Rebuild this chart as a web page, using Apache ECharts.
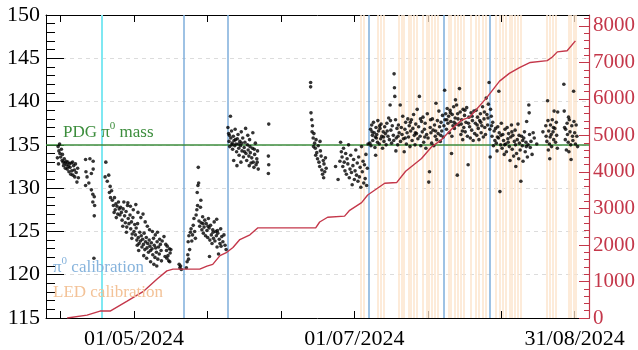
<!DOCTYPE html>
<html><head><meta charset="utf-8">
<script src="https://cdn.jsdelivr.net/npm/echarts@6/dist/echarts.min.js"></script>
<style>html,body{margin:0;padding:0;background:#fff}#c{width:638px;height:350px}</style>
</head><body><div id="c"></div>
<script>
// x values are days since 01/04/2024
const tickDays = [9.667, 30, 50.333, 70.667, 91, 111.333, 131.667, 152];
const labelDays = [30, 91, 152];
const tickLabels = ['01/05/2024', '01/07/2024', '31/08/2024'];
const rightMajor = [0, 1000, 2000, 3000, 4000, 5000, 6000, 7000, 8000];

const cyanDays = [21.1];
const blueDays = [43.9, 55.9, 94.9, 115.7, 128.5];
const orangeDays = [92.9, 93.6, 97.5, 98.3, 99.1, 103.4, 104.0, 104.7, 106.1, 106.6, 107.5, 108.3, 110.0, 111.0, 111.5, 112.4, 113.2, 114.0,
  117.1, 117.8, 118.7, 119.6, 120.4, 121.3, 123.3, 124.5, 125.4, 126.5, 127.5, 130.2, 131.2, 132.1, 133.0, 133.9, 134.6, 135.3, 136.2, 137.2,
  144.4, 145.0, 145.9, 146.8, 150.4, 151.0, 151.6, 152.2];
const pdgMass = 135;

const cumDays = [11.5, 17.0, 20.6, 23.4, 28.1, 32.5, 36.4, 39.1, 40.8, 48.2, 50.2, 51.8, 53.8, 55.7, 57.4, 59.3, 62.1, 64.3, 80.3, 81.4, 83.6, 88.3, 89.7, 93.0, 94.7, 99.4, 102.7, 105.2, 109.6, 112.4, 115.1, 117.9, 120.7, 122.9, 127.6, 131.2, 133.9, 136.7, 139.7, 144.4, 145.8, 147.2, 149.9, 152.2];
const cumCounts = [0, 80, 190, 190, 460, 720, 1070, 1290, 1340, 1340, 1420, 1470, 1710, 1800, 1930, 2150, 2280, 2470, 2470, 2630, 2760, 2790, 2950, 3160, 3370, 3690, 3710, 4020, 4370, 4690, 4880, 5170, 5420, 5500, 6030, 6490, 6700, 6860, 7000, 7050, 7150, 7290, 7320, 7590];

const massApril = [[9.0,134.8],[9.2,134.3],[9.4,135.1],[9.5,134.0],[9.7,133.6],[9.9,134.5],[10.1,133.2],[10.2,133.9],[10.4,133.0],[10.5,132.6],[10.7,133.4],[10.9,132.9],[11.0,132.3],[11.2,133.1],[11.3,132.7],[11.5,132.2],[11.7,133.0],[11.8,132.5],[12.0,131.9],[12.1,132.8],[12.3,132.4],[12.5,131.6],[12.6,132.9],[12.8,132.0],[13.0,133.0],[13.1,131.5],[13.3,132.6],[13.5,132.1],[13.6,131.3],[13.8,132.8],[14.0,131.8],[14.2,130.7],[14.4,132.3],[14.6,131.2],[8.8,133.5],[9.1,132.8],
  [16.6,133.3],[17.8,133.4],[18.7,133.1],[16.7,131.9],[17.0,131.3],[18.2,131.7],[18.7,132.2],[16.6,130.3],[18.2,129.8],[18.6,129.3],[19.0,129.0],[18.6,128.4],[19.0,126.8],[17.5,130.6],[19.1,128.0],[18.9,121.9]];
const massMayA = [[22.2,133.0],[22.0,131.3],[22.6,130.8],[23.0,131.5],[23.2,129.5],[23.5,128.9],[23.8,129.7],[23.4,130.2],
  [24.0,128.6],[24.3,128.0],[24.6,128.9],[24.8,127.5],[25.0,128.2],[25.3,127.9],[25.5,127.0],[25.7,128.4],[25.9,127.6],[26.1,126.9],[26.3,127.8],[24.5,127.2],[25.1,126.6],
  [26.5,127.2],[26.7,126.3],[27.0,127.6],[27.2,128.4],[27.4,126.8],[27.6,126.0],[27.8,127.3],[28.0,125.5],[28.2,128.0],[28.4,126.5],[28.6,125.9],[28.9,126.9],[29.1,125.3],[29.3,126.1],[29.5,124.7],[29.7,126.6],[30.0,125.0],[30.2,125.8],
  [30.4,124.6],[30.6,125.4],[30.8,124.0],[31.0,125.9],[31.2,124.3],[31.4,123.6],[31.6,124.9],[31.8,123.9],[32.0,124.5],[32.2,123.2],[32.4,124.1],[32.6,123.5],[32.8,124.8],[33.0,122.9],[33.2,123.8],[33.4,124.3],[33.6,123.1],[33.8,123.6],[34.0,122.6],
  [34.2,124.0],[34.4,123.3],[34.6,122.8],[34.8,123.7],[35.0,123.0],[35.2,122.3],[35.4,124.2],[35.6,123.4],[35.8,122.0],[36.0,123.1],[36.2,122.6],[36.4,123.8],[36.6,121.8],[36.8,123.2],[37.0,122.4],[37.3,123.5],[37.5,122.8],
  [38.8,123.5],[39.0,122.8],[39.2,123.3],[39.4,122.2],[39.6,121.6],[39.8,123.0],[40.0,122.5],[42.5,121.2],[42.7,120.8],[42.9,121.0],[43.1,120.6],
  [28.3,128.3],[29.0,127.9],[29.8,127.5],[30.5,128.1],[31.1,127.2],[31.9,126.6],[32.5,127.0],[33.1,126.1],[33.7,125.6],[34.3,125.2],[35.1,125.0],[35.9,124.6],[36.5,124.9],[37.1,124.1],[37.8,123.9],[38.3,124.4],[38.6,122.1],[39.1,121.9],[39.9,121.5],[40.2,122.9],
  [31.3,122.8],[32.7,122.2],[33.5,121.9],[34.6,121.5],[35.5,121.2],[36.3,121.0],[37.6,121.6],[26.9,125.6],[27.9,124.9],[29.4,124.2],[30.9,123.4]];
const massMayB = [[44.5,120.8],[44.7,121.5],[44.9,122.3],[45.0,123.8],[45.2,124.5],[45.4,122.9],[45.6,124.9],[45.8,125.3],[46.0,123.9],[46.2,124.6],[46.4,125.7],[46.6,126.5],[46.8,125.0],[47.0,124.2],[47.2,126.9],[47.4,127.5],[47.5,129.5],[47.7,130.3],[47.9,130.6],[47.8,132.4],[48.0,126.2],[48.2,125.6],[48.4,127.8],[48.6,126.0],[48.8,125.2],[49.0,126.7],[49.2,124.8],[49.4,125.5],[49.6,126.3],[49.8,124.5],[50.0,125.9],[50.2,125.1],[50.4,124.3],[50.6,126.5],[50.8,125.4],[51.0,124.0],[51.2,125.7],[51.4,124.6],[51.6,123.6],[51.8,125.2],[52.0,124.2],[52.2,126.1],[52.4,123.9],[52.6,125.0],[52.8,124.5],[53.0,123.2],[53.2,124.8],[53.4,122.4],[53.6,124.1],[53.8,123.6],[54.0,125.3],[54.3,124.4],[54.6,123.8],[54.9,124.6],[55.2,123.4],[55.5,122.9],[48.5,128.6],[47.6,128.0],[45.1,121.8],
  [49.1,125.9],[50.5,125.6],[51.9,124.9],[53.1,125.1],[54.1,123.3],[52.9,126.4],[50.9,122.1]];
const massJune = [[56.0,137.0],[56.2,136.3],[56.3,135.4],[56.5,134.8],[56.7,138.3],[56.8,135.8],[57.0,136.6],[57.2,135.2],[57.3,134.5],[57.5,136.0],[57.7,135.5],[57.9,134.9],[58.0,136.8],[58.2,135.1],[58.4,134.2],[58.6,135.7],[58.8,136.2],[59.0,134.6],[59.1,133.8],[59.3,135.4],[59.5,134.9],[59.7,136.5],[59.9,134.3],[60.1,135.8],[60.3,133.6],[60.5,134.7],[60.7,135.3],[60.9,136.9],[61.0,134.0],[61.2,133.2],[61.4,135.0],[61.6,134.4],[61.8,133.7],[62.0,135.6],[62.2,134.1],[62.4,132.9],[62.6,133.5],[62.8,134.6],[63.0,133.0],[63.2,132.4],[63.4,133.9],[63.6,135.2],[63.8,132.7],[64.0,133.4],[64.2,134.3],[64.4,132.2],[57.6,133.2],[58.5,132.6],[59.6,133.0],[61.5,136.1],[62.9,136.4],[67.3,137.4],[67.2,133.7],[67.3,132.7],[67.2,131.7],
  [56.4,136.1],[57.1,135.0],[58.1,135.6],[58.9,135.1],[59.8,135.2],[60.6,134.2],[62.1,134.8],[63.3,134.5],[64.1,133.0],[61.9,132.6],
  [78.9,142.2],[78.9,141.7],[79.0,138.7],[79.2,137.9],[79.4,137.2],[79.3,136.5],[79.6,135.8],[79.8,136.3],[80.0,135.2],[80.2,134.6],[80.4,135.6],[80.6,134.1],[80.8,133.4],[81.0,134.9],[81.2,133.0],[81.4,132.5],[81.6,134.3],[81.8,133.7],[82.0,132.1],[82.2,131.6],[82.4,133.2],[82.6,132.8],[82.8,131.9],[83.0,133.5],[83.2,132.3],[80.3,133.8],[81.5,135.4],[82.5,131.2],[79.7,134.8],
  [87.0,133.1],[87.2,135.3],[87.4,134.2],[87.6,133.6],[87.8,132.5],[88.0,134.6],[88.2,133.0],[88.4,132.0],[88.6,134.0],[88.8,131.6],[89.0,133.4],[89.2,132.8],[89.4,135.0],[89.6,131.2],[89.8,132.2],[90.0,133.8],[90.2,131.8],[90.4,130.4],[90.6,132.6],[90.8,133.3],[91.0,131.0],[91.2,132.0],[91.4,134.4],[91.6,131.5],[91.8,132.9],[92.0,130.8],[92.2,133.6],[92.4,131.3],[92.6,132.4],[92.8,130.1],[93.0,134.8],[93.2,131.9],[93.4,133.1],[93.6,130.6],[93.8,132.7],[94.0,131.1],[94.2,133.9],[94.4,130.3],[94.6,132.3],[94.8,135.1],[86.5,131.0],[85.8,132.5]];
const massJuly = [[95.3,135.2],[95.5,136.8],[95.6,134.9],[95.8,137.3],[96.0,136.1],[96.1,135.5],[96.3,137.6],[96.5,136.4],[96.7,134.7],[96.8,135.9],[97.0,137.0],[97.2,136.2],[97.4,135.3],[97.5,137.8],[97.7,136.6],[97.9,135.1],[98.1,136.9],[98.3,135.7],[98.4,137.4],[98.6,136.0],[98.8,134.6],[99.0,136.5],[99.2,135.4],[99.4,137.1],[99.6,136.3],[99.8,135.0],[100.0,137.5],[100.3,136.0],[100.5,138.1],[100.7,135.6],[100.9,139.6],[101.1,136.7],[101.3,135.2],[101.5,137.2],[101.8,136.1],[102.0,143.2],[102.1,141.6],[102.2,140.6],[102.4,137.9],[102.6,135.8],[102.8,136.9],[103.0,135.0],[103.2,137.3],[103.4,136.4],[103.7,139.6],[102.5,134.3],[96.9,133.8],
  [95.9,136.5],[97.1,135.8],[98.0,137.2],[99.1,135.9],[100.1,136.6],[101.0,137.8],[101.9,135.5],[103.1,136.0],
  [103.8,135.4],[104.0,137.0],[104.2,136.2],[104.4,138.3],[104.6,135.7],[104.8,134.2],[105.0,136.8],[105.2,137.6],[105.4,135.1],[105.6,136.4],[105.8,138.0],[106.0,135.9],[106.2,137.2],[106.4,134.8],[106.6,136.6],[106.8,137.9],[107.0,135.5],[107.2,136.9],[107.4,138.5],[107.6,136.1],[107.8,135.0],[108.0,137.4],[108.2,136.3],[108.4,139.1],[108.6,135.7],[108.8,137.1],[109.0,140.6],[109.2,136.0],[109.4,134.9],[109.6,137.7],[109.8,136.5],[110.0,138.2],[110.2,135.3],[110.4,136.8],[110.6,137.5],[110.8,134.6],[111.0,136.2],[111.2,138.6],[111.4,135.8],[111.6,130.7],[111.8,131.9],[112.0,137.0],[112.2,136.4],[112.4,135.2],[112.6,138.0],[112.8,136.7],[113.0,134.9],[113.2,137.3],[113.4,136.0],[113.6,139.8],[113.8,135.6],[114.0,137.8],[114.2,136.3],[114.4,138.9],[114.6,137.1],[114.8,135.4],[115.0,137.6],[115.2,136.6],[115.4,138.4],[115.6,135.9],[115.8,137.2],
  [105.1,135.8],[106.5,137.6],[107.9,136.4],[109.3,138.0],[110.5,135.9],[112.1,137.9],[113.5,136.6],[114.9,136.1],
  [116.0,141.3],[116.1,137.9],[116.3,138.6],[116.5,136.8],[116.7,139.2],[116.9,137.5],[117.1,138.3],[117.3,136.4],[117.5,139.0],[117.7,137.7],[117.9,134.0],[118.1,138.5],[118.3,137.2],[118.5,139.4],[118.7,136.9],[118.9,138.1],[119.1,137.4],[119.3,139.6],[119.5,131.5],[119.7,138.0],[119.9,137.3],[120.1,141.5],[120.3,138.8],[120.5,136.2],[120.7,137.9],[120.9,136.6],[121.1,139.1],[121.3,137.0],[121.5,138.4],[121.7,136.5],[121.9,137.6],[122.1,139.3],[122.3,136.0],[122.5,132.7],[122.7,138.2],[122.9,137.1],[123.1,135.8],[123.3,138.7],[123.5,136.7],[123.7,137.8],[123.9,135.5],[124.1,138.9],[124.3,136.3],[118.0,136.0],[121.0,135.6],[119.0,140.2],
  [116.6,137.9],[117.6,138.7],[118.6,137.6],[119.6,138.6],[120.6,137.4],[121.6,139.0],[122.6,137.5],[123.6,138.3]];
const massAugust = [[124.5,137.5],[124.7,139.0],[124.9,136.1],[125.1,138.2],[125.3,136.9],[125.5,135.6],[125.7,137.8],[125.9,138.6],[126.1,136.4],[126.3,137.2],[126.5,139.4],[126.7,135.9],[126.9,138.0],[127.1,137.0],[127.3,136.2],[127.5,140.4],[127.7,138.5],[127.9,137.3],[128.1,139.7],[128.3,142.2],[128.5,136.8],[128.7,139.1],[128.9,138.3],[129.1,136.0],[129.3,137.6],[129.5,134.9],[129.7,136.6],[129.9,135.5],[128.6,133.6],[131.0,141.2],
  [125.0,137.3],[126.0,137.6],[127.0,138.8],[128.0,138.1],[129.0,137.2],
  [130.1,136.9],[130.3,135.2],[130.5,134.3],[130.7,137.1],[130.9,135.8],[131.1,136.4],[131.3,129.6],[131.5,135.0],[131.7,137.5],[131.9,134.6],[132.1,136.2],[132.3,135.5],[132.5,133.9],[132.7,136.8],[132.9,135.1],[133.1,134.2],[133.3,137.0],[133.5,135.7],[133.7,136.3],[133.9,134.8],[134.1,133.2],[134.3,135.9],[134.5,137.3],[134.7,134.5],[134.9,136.1],[135.1,133.7],[135.3,135.4],[135.5,136.7],[135.7,132.5],[135.9,134.0],[136.1,135.6],[136.3,137.4],[136.5,133.4],[136.7,135.2],[136.9,134.4],[137.1,130.8],[137.3,136.0],[137.5,134.9],[137.7,133.1],[137.9,135.8],[138.1,136.5],[138.3,134.2],[138.5,135.3],[138.7,137.7],[138.9,133.6],[139.1,135.0],[139.3,139.6],[139.4,138.7],[139.5,136.2],[139.7,134.7],[139.9,135.4],[140.2,133.9],[140.5,136.4],[140.8,135.8],[141.5,135.1],
  [130.6,135.9],[131.6,136.1],[132.6,135.0],[133.6,135.3],[134.6,136.5],[135.6,135.0],[136.6,136.1],[137.6,135.5],[138.6,134.8],
  [144.0,137.2],[144.1,136.0],[144.3,135.4],[144.5,140.1],[144.6,137.8],[144.8,136.6],[145.0,135.1],[145.1,133.4],[145.3,137.3],[145.5,136.2],[145.6,134.8],[145.8,137.9],[146.0,136.5],[146.2,135.6],[146.3,138.9],[146.5,136.9],[146.7,135.3],[146.9,137.6],[147.0,136.1],[147.2,134.6],[147.3,138.8],[145.2,135.9],[146.1,137.0],[144.7,134.4],[143.2,136.5],
  [149.0,142.0],[149.1,138.9],[149.2,137.0],[149.4,135.6],[149.5,136.8],[149.7,134.4],[149.9,137.5],[150.0,136.2],[150.2,135.3],[150.4,134.2],[150.5,137.9],[150.7,136.5],[150.9,135.0],[151.0,133.3],[151.2,137.2],[151.4,136.0],[151.5,135.5],[151.7,141.2],[151.8,137.7],[152.0,136.4],[152.2,135.1],[152.4,137.3],[152.6,136.0],[152.8,134.8],[150.3,138.2]];

const X_MIN = 5.64, X_MAX = 155.96;
const FONT = "'Liberation Serif', 'DejaVu Serif', serif";
const RED = '#c4374a';
const GREEN = '#3c8d3c';

const rightMinor = [];
for (let v = 200; v <= 8200; v += 200) { if (v % 1000 !== 0) rightMinor.push(v); }
const leftMinor = [];
for (let v = 116; v < 150; v += 1) { if (v % 5 !== 0) leftMinor.push(v); }

const vline = (days, color, width, z) => ({
  type: 'line', data: [], xAxisIndex: 0, yAxisIndex: 0, z: z, silent: true,
  markLine: { silent: true, z: z, symbol: ['none', 'none'], label: { show: false }, animation: false,
    lineStyle: { color: color, width: width, type: 'solid' }, emphasis: { disabled: true },
    data: days.map(d => ({ xAxis: d })) }
});

const chart = echarts.init(document.getElementById('c'), null, { renderer: 'canvas' });
chart.setOption({
  animation: false,
  backgroundColor: '#fff',
  grid: { left: 46, right: 49, top: 15, bottom: 25, containLabel: false },
  xAxis: [
    { type: 'value', position: 'bottom', min: X_MIN, max: X_MAX,
      axisLine: { show: true, onZero: false, lineStyle: { color: '#000', width: 1 } },
      axisTick: { show: true, inside: true, length: 7, customValues: tickDays, lineStyle: { color: '#000' } },
      axisLabel: { show: true, customValues: labelDays, margin: 10, color: '#000', fontSize: 22, fontFamily: FONT,
        formatter: v => { const i = labelDays.findIndex(d => Math.abs(d - v) < 0.01); return i >= 0 ? tickLabels[i] : ''; } },
      splitLine: { show: false } },
    { type: 'value', position: 'top', min: X_MIN, max: X_MAX,
      axisLine: { show: true, onZero: false, lineStyle: { color: '#000', width: 1 } },
      axisTick: { show: true, inside: true, length: 7, customValues: tickDays, lineStyle: { color: '#000' } },
      axisLabel: { show: false }, splitLine: { show: false } }
  ],
  yAxis: [
    { type: 'value', position: 'left', min: 115, max: 150, interval: 5,
      axisLine: { show: true, onZero: false, lineStyle: { color: '#000', width: 1 } },
      axisTick: { show: true, inside: true, length: 18, lineStyle: { color: '#000' } },
      axisLabel: { margin: 6, color: '#000', fontSize: 22, fontFamily: FONT },
      splitLine: { show: true, lineStyle: { color: '#dcdcdc', type: [4, 4], width: 1 } } },
    { type: 'value', position: 'right', min: 0, max: 8300, interval: 1000,
      axisLine: { show: true, onZero: false, lineStyle: { color: RED, width: 1.2 } },
      axisTick: { show: true, inside: true, length: 10, customValues: rightMajor, lineStyle: { color: RED } },
      axisLabel: { customValues: rightMajor, margin: 4, color: RED, fontSize: 21, fontFamily: FONT, formatter: v => String(v) },
      splitLine: { show: false } },
    { type: 'value', position: 'right', min: 0, max: 8300, interval: 200,
      axisLine: { show: false },
      axisTick: { show: true, inside: true, length: 5, customValues: rightMinor, lineStyle: { color: RED } },
      axisLabel: { show: false }, splitLine: { show: false } },
    { type: 'value', position: 'left', min: 115, max: 150, interval: 1,
      axisLine: { show: false },
      axisTick: { show: true, inside: true, length: 9, customValues: leftMinor, lineStyle: { color: '#000' } },
      axisLabel: { show: false }, splitLine: { show: false } }
  ],
  series: [
    vline(orangeDays, '#fce5cd', 1.5, 1),
    vline(blueDays, '#7eaedb', 1.5, 2),
    vline(cyanDays, '#7fe8f2', 2, 2),
    { type: 'line', data: [], z: 3, silent: true,
      markLine: { silent: true, z: 3, symbol: ['none', 'none'], label: { show: false }, animation: false,
        lineStyle: { color: GREEN, width: 1.5, type: 'solid' }, data: [{ yAxis: pdgMass }] } },
    { type: 'scatter', name: 'mass', xAxisIndex: 0, yAxisIndex: 0, z: 6, symbol: 'circle', symbolSize: 3.6,
      itemStyle: { color: '#000' }, silent: true,
      data: [].concat(massApril, massMayA, massMayB, massJune, massJuly, massAugust) },
    { type: 'line', name: 'cumulative', xAxisIndex: 0, yAxisIndex: 1, z: 7, showSymbol: false, silent: true,
      lineStyle: { color: RED, width: 1.4 },
      data: cumDays.map((d, i) => [d, cumCounts[i]]) }
  ],
  graphic: [
    { type: 'text', left: 63, top: 121, z: 10, silent: true,
      style: { text: '{a|PDG π}{s|0}{a| mass}', rich: {
        a: { fontFamily: FONT, fontSize: 17, fill: GREEN, lineHeight: 20, verticalAlign: 'bottom' },
        s: { fontFamily: FONT, fontSize: 11, fill: GREEN, lineHeight: 20, verticalAlign: 'top' } } } },
    { type: 'text', left: 53, top: 256, z: 10, silent: true,
      style: { text: '{a|π}{s|0}{a| calibration}', rich: {
        a: { fontFamily: FONT, fontSize: 17, fill: '#86b3dc', lineHeight: 20, verticalAlign: 'bottom' },
        s: { fontFamily: FONT, fontSize: 11, fill: '#86b3dc', lineHeight: 20, verticalAlign: 'top' } } } },
    { type: 'text', left: 53, top: 284, z: 10, silent: true,
      style: { text: 'LED calibration', fontFamily: FONT, fontSize: 17, fill: '#f3c297' } }
  ]
});
</script>
</body></html>
